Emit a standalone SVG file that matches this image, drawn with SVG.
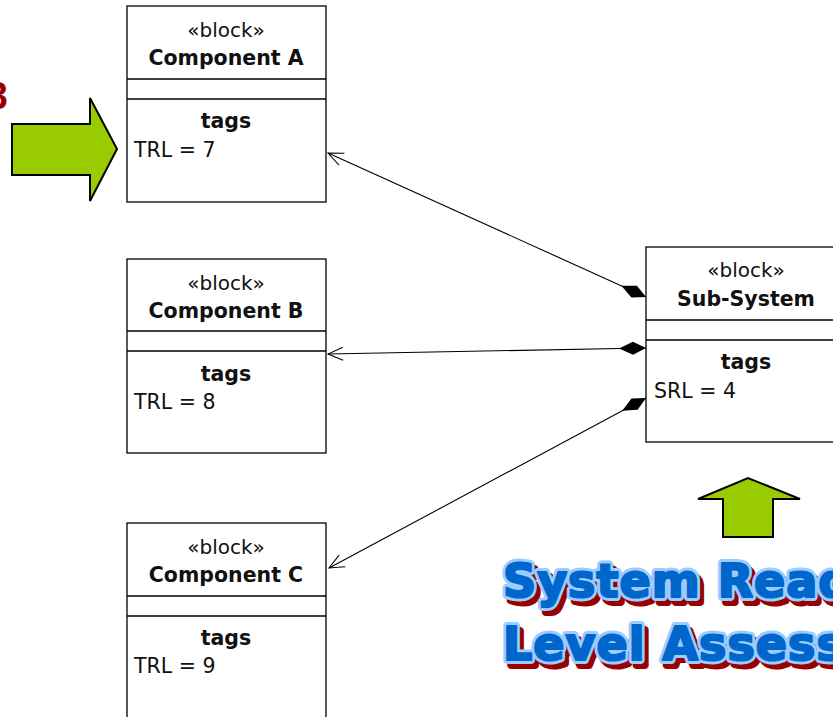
<svg xmlns="http://www.w3.org/2000/svg" width="833" height="717" viewBox="0 0 833 717">
  <style>
    .box { fill: #ffffff; stroke: #000000; stroke-width: 1.3; }
    .sep { stroke: #000000; stroke-width: 1.3; }
    .stereo { font-family: "DejaVu Sans", "Liberation Sans", sans-serif; font-size: 20px; fill: #111111; text-anchor: middle; }
    .name { font-family: "DejaVu Sans", "Liberation Sans", sans-serif; font-size: 20.5px; font-weight: bold; fill: #111111; text-anchor: middle; }
    .val { font-family: "DejaVu Sans", "Liberation Sans", sans-serif; font-size: 20.5px; fill: #111111; }
    .conn { fill: none; stroke: #000000; stroke-width: 1.1; }
    .green { fill: #99cc00; stroke: #000000; stroke-width: 2; stroke-linejoin: miter; }
    .banner { font-family: "DejaVu Sans", "Liberation Sans", sans-serif; font-size: 46px; font-weight: bold; letter-spacing: 1px; stroke-linejoin: round; }
    .banner-shadow { fill: #990000; stroke: #990000; stroke-width: 8; }
    .banner-rim { fill: #99ccff; stroke: #99ccff; stroke-width: 8; }
    .banner-face { fill: #0066cc; stroke: #0066cc; stroke-width: 2.2; }
  </style>
  <defs>
    <marker id="composite" markerUnits="userSpaceOnUse" markerWidth="30" markerHeight="16" viewBox="0 -8 30 16" refX="0" refY="0" orient="auto">
      <path d="M0,0 L13,-6.5 L27,0 L13,6.5 Z" fill="#000000"/>
    </marker>
    <marker id="open-arrow" markerUnits="userSpaceOnUse" markerWidth="18" markerHeight="16" viewBox="-17 -8 18 16" refX="0" refY="0" orient="auto">
      <path d="M-15,-6.5 L0,0 L-15,6.5" fill="none" stroke="#000000" stroke-width="1"/>
    </marker>
  </defs>

  <!-- partial red numeral at the left margin -->
  <text x="8" y="109" text-anchor="end" font-family="Liberation Sans, Arial, sans-serif" font-size="38" font-weight="bold" fill="#990000">3</text>

  <!-- green pointer arrows -->
  <polygon class="green" points="12,124 90,124 90,98 117,149 90,201 90,175 12,175"/>
  <polygon class="green" points="723,537 723,499 698,499 748,478 800,499 773,499 773,537"/>

  <g id="connectors">
    <path class="conn" d="M646,297 L328,153" marker-start="url(#composite)" marker-end="url(#open-arrow)"/>
    <path class="conn" d="M646,348 L328,354" marker-start="url(#composite)" marker-end="url(#open-arrow)"/>
    <path class="conn" d="M646,398 L329,568" marker-start="url(#composite)" marker-end="url(#open-arrow)"/>
  </g>

  <g id="component-a">
    <rect class="box" x="127" y="6" width="199" height="196"/>
    <line class="sep" x1="127" y1="79" x2="326" y2="79"/>
    <line class="sep" x1="127" y1="99" x2="326" y2="99"/>
    <text class="stereo" x="226" y="37">«block»</text>
    <text class="name" x="226" y="65">Component A</text>
    <text class="name" x="226" y="128">tags</text>
    <text class="val" x="134" y="157">TRL = 7</text>
  </g>

  <g id="component-b">
    <rect class="box" x="127" y="259" width="199" height="194"/>
    <line class="sep" x1="127" y1="331" x2="326" y2="331"/>
    <line class="sep" x1="127" y1="351" x2="326" y2="351"/>
    <text class="stereo" x="226" y="290">«block»</text>
    <text class="name" x="226" y="318">Component B</text>
    <text class="name" x="226" y="381">tags</text>
    <text class="val" x="134" y="409">TRL = 8</text>
  </g>

  <g id="component-c">
    <rect class="box" x="127" y="523" width="199" height="210"/>
    <line class="sep" x1="127" y1="596" x2="326" y2="596"/>
    <line class="sep" x1="127" y1="616" x2="326" y2="616"/>
    <text class="stereo" x="226" y="554">«block»</text>
    <text class="name" x="226" y="582">Component C</text>
    <text class="name" x="226" y="645">tags</text>
    <text class="val" x="134" y="673">TRL = 9</text>
  </g>

  <g id="sub-system">
    <rect class="box" x="646" y="247" width="200" height="195"/>
    <line class="sep" x1="646" y1="320" x2="846" y2="320"/>
    <line class="sep" x1="646" y1="340" x2="846" y2="340"/>
    <text class="stereo" x="746" y="277">«block»</text>
    <text class="name" x="746" y="306">Sub-System</text>
    <text class="name" x="746" y="369">tags</text>
    <text class="val" x="654" y="398">SRL = 4</text>
  </g>

  <!-- banner caption: red drop shadow, pale blue rim, blue face -->
  <g id="banner">
    <text class="banner banner-shadow" x="507" y="602">System Readiness</text>
    <text class="banner banner-shadow" x="507" y="665">Level Assessment</text>
    <text class="banner banner-rim" x="503" y="597">System Readiness</text>
    <text class="banner banner-rim" x="503" y="660">Level Assessment</text>
    <text class="banner banner-face" x="503" y="597">System Readiness</text>
    <text class="banner banner-face" x="503" y="660">Level Assessment</text>
  </g>
</svg>
